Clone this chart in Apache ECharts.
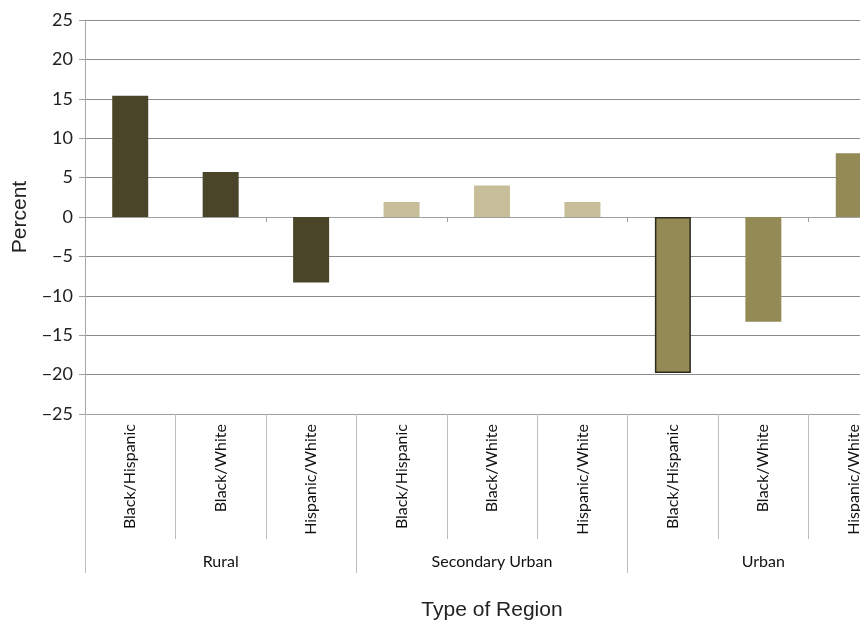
<!DOCTYPE html>
<html>
<head>
<meta charset="utf-8">
<script src="https://cdn.jsdelivr.net/npm/echarts@6/dist/echarts.min.js"></script>
<style>
  html, body { margin: 0; padding: 0; background: #fff; }
  #main { width: 860px; height: 621px; }
</style>
</head>
<body>
<div id="main"></div>
<script>
// 分类与数据
var pairs = ['Black/Hispanic', 'Black/White', 'Hispanic/White',
             'Black/Hispanic', 'Black/White', 'Hispanic/White',
             'Black/Hispanic', 'Black/White', 'Hispanic/White'];
var regions = ['Rural', 'Secondary Urban', 'Urban'];
var values = [15.4, 5.7, -8.3, 1.9, 4.0, 1.9, -19.8, -13.3, 8.1];
var regionColors = ['#4a4529', '#c6be98', '#938a55'];

var labelFont = 'Lato, "Open Sans", sans-serif';
var titleFont = '"Liberation Sans", Arial, sans-serif';

var barData = values.map(function (v, i) {
  var item = { value: v, itemStyle: { color: regionColors[Math.floor(i / 3)] } };
  // Urban Black/Hispanic 有深色描边
  if (i === 6) {
    item.itemStyle.borderColor = '#2e2b1c';
    item.itemStyle.borderWidth = 1.5;
  }
  return item;
});

var myChart = echarts.init(document.getElementById('main'));
myChart.setOption({
  animation: false,
  grid: { left: 85, top: 20, bottom: 207, width: 814, outerBoundsMode: 'none', containLabel: false },
  xAxis: [
    {
      type: 'category',
      data: pairs,
      position: 'bottom',
      axisLine: { onZero: true, lineStyle: { color: '#a0a0a0' } },
      axisTick: { show: true, length: 5, lineStyle: { color: '#a0a0a0' } },
      axisLabel: { show: false },
      splitLine: { show: false }
    },
    {
      type: 'category',
      data: pairs,
      position: 'bottom',
      axisLine: { show: true, onZero: false, lineStyle: { color: '#a0a0a0' } },
      axisTick: { show: true, length: 125, lineStyle: { color: '#bdbdbd' } },
      axisLabel: {
        rotate: 90, margin: 10, interval: 0,
        fontFamily: labelFont, fontSize: 16, color: '#111'
      },
      splitLine: { show: false }
    },
    {
      type: 'category',
      data: regions,
      position: 'bottom',
      axisLine: { show: false, onZero: false },
      axisTick: { show: true, length: 159, lineStyle: { color: '#bdbdbd' } },
      axisLabel: { margin: 140, interval: 0, fontFamily: labelFont, fontSize: 16, color: '#111' },
      splitLine: { show: false },
      name: 'Type of Region',
      nameLocation: 'middle',
      nameGap: 186,
      nameTextStyle: { fontFamily: titleFont, fontSize: 21, color: '#222' }
    }
  ],
  yAxis: {
    type: 'value',
    min: -25, max: 25, interval: 5,
    axisLine: { show: true, lineStyle: { color: '#a8a8a8' } },
    axisTick: { show: true, length: 6, lineStyle: { color: '#a0a0a0' } },
    axisLabel: {
      margin: 12, fontFamily: labelFont, fontSize: 18, color: '#222',
      formatter: function (v) { return String(v).replace('-', '\u2212'); }
    },
    splitLine: { lineStyle: { color: '#8c8c8c', width: 1 } },
    name: 'Percent',
    nameLocation: 'middle',
    nameGap: 54,
    nameTextStyle: { fontFamily: titleFont, fontSize: 21, color: '#222' }
  },
  series: [{
    type: 'bar',
    xAxisIndex: 0,
    barWidth: 36,
    data: barData
  }]
});
</script>
</body>
</html>
